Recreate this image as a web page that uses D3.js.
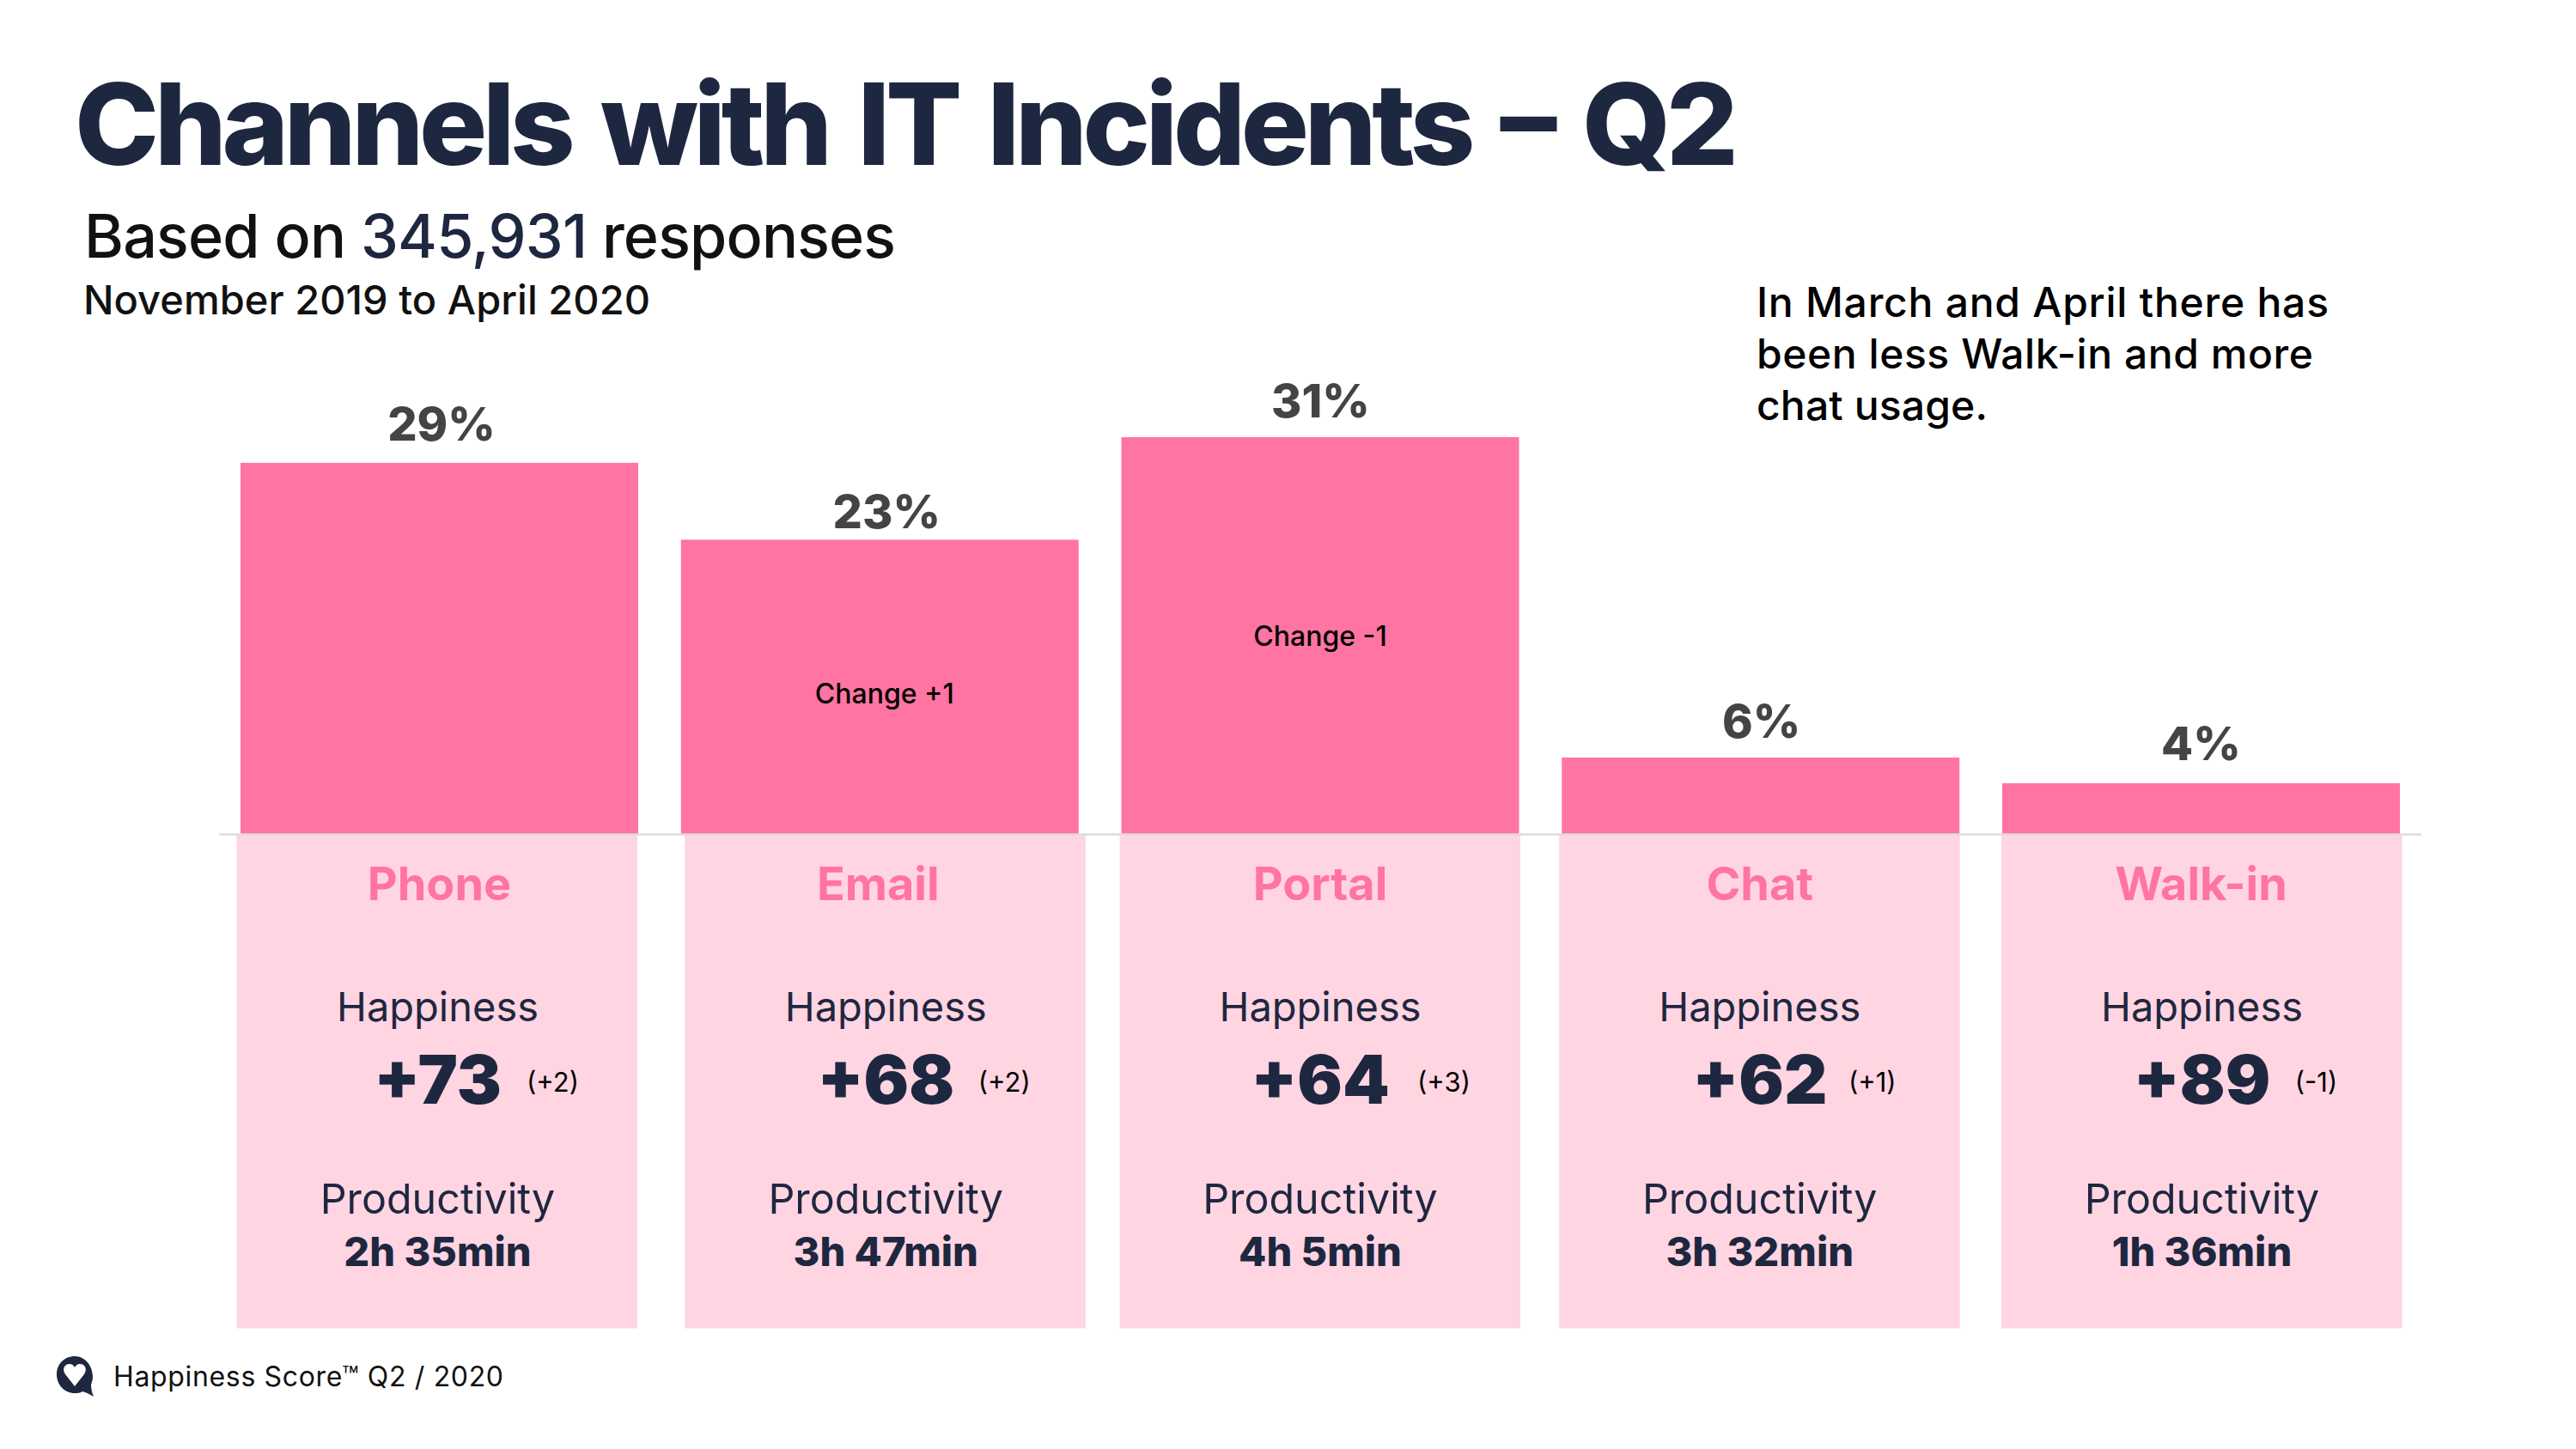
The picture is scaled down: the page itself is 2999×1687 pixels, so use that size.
<!DOCTYPE html>
<html><head><meta charset="utf-8">
<script src="https://cdnjs.cloudflare.com/ajax/libs/d3/7.8.5/d3.min.js"></script>
<style>
html,body{margin:0;padding:0;background:#fff}
svg{display:block}
text{font-family:Inter,"Noto Sans",sans-serif}
</style></head><body><svg id="c" width="2999" height="1687" viewBox="0 0 2999 1687"></svg>
<script>
const channels = ["Phone","Email","Portal","Chat","Walk-in"];
const shares = [29,23,31,6,4];
const changeNotes = ["","Change +1","Change -1","",""];
const happiness = ["+73","+68","+64","+62","+89"];
const happinessDelta = ["(+2)","(+2)","(+3)","(+1)","(-1)"];
const productivity = ["2h 35min","3h 47min","4h 5min","3h 32min","1h 36min"];

// layout tweaks relative to each bar's centre / left edge
const panelNudge = [-4.5,4.5,-2,-3,-1];
const textNudge = [-2,7,0,-1,1];
const nameNudge = [0,-2,0,-1,0];
const deltaOffset = [132,145,144,130,134];
const shareDx = [2.5,8,0.5,1,0];
const shareDy = [-26,-13,-23,-23,-27];
const noteDx = [0,5.5,0,0,-1];
const noteDy = [0,19.5,11.5,0,0];

const navy="#1e2740", pink="#ff74a2", light="#ffd5e2", grey="#444444";
const svg=d3.select("#c");
const x=d3.scaleBand().domain(channels).range([280,2794]).paddingInner(49.75/512.75);
const y=d3.scaleLinear().domain([0,31]).range([971.5,509]);
const idx=d=>channels.indexOf(d);
const cx=d=>x(d)+x.bandwidth()/2;

svg.append("g").selectAll("rect").data(channels).join("rect")
  .attr("x",d=>x(d)+panelNudge[idx(d)]).attr("y",y(0)).attr("width",466.5).attr("height",1546.5-y(0)).attr("fill",light);
svg.append("g").selectAll("rect").data(channels).join("rect")
  .attr("x",d=>x(d)).attr("y",(d,i)=>y(shares[i])).attr("width",x.bandwidth()).attr("height",(d,i)=>y(0)-y(shares[i])).attr("fill",pink);
svg.append("line").attr("x1",x.range()[0]-25).attr("x2",x.range()[1]+25).attr("y1",y(0)).attr("y2",y(0)).attr("stroke","#dddddd").attr("stroke-width",2.5);

function T(g,txt,xx,yy,fs,w,col,len){
  const t=g.append("text").attr("x",xx).attr("y",yy).attr("font-size",fs).attr("font-weight",w).attr("fill",col).text(txt);
  if(len) t.attr("textLength",len).attr("lengthAdjust","spacing");
  return t;
}
const head=svg.append("g");
T(head,"Channels with IT Incidents – Q2",87,192,132,800,navy,1937).attr("word-spacing",11);
const sub=T(head,"",98,300,70,450,"#111",945);
sub.append("tspan").text("Based on ");
sub.append("tspan").attr("fill",navy).text("345,931");
sub.append("tspan").text(" responses");
T(head,"November 2019 to April 2020",97,366,47,450,"#111",660);
["In March and April there has","been less Walk-in and more","chat usage."].forEach((s,i)=>T(head,s,2045,369+60*i,48,550,"#000",[666,648,269][i]));
T(head,"Happiness Score™ Q2 / 2020",132,1613.5,32,400,"#111",454);

// value labels
svg.append("g").selectAll("text").data(channels).join("text")
  .attr("x",(d,i)=>cx(d)+shareDx[i]).attr("y",(d,i)=>y(shares[i])+shareDy[i]).attr("text-anchor","middle")
  .attr("font-size",54).attr("font-weight",800).attr("fill",grey).text((d,i)=>shares[i]+"%");
svg.append("g").selectAll("text").data(channels.filter((d,i)=>changeNotes[i])).join("text")
  .attr("x",d=>cx(d)+noteDx[idx(d)]).attr("y",d=>y(shares[idx(d)]/2)+noteDy[idx(d)]).attr("text-anchor","middle")
  .attr("font-size",32).attr("font-weight",500).attr("fill","#000").text(d=>changeNotes[idx(d)]);

const rows=svg.append("g").selectAll("g").data(channels).join("g");
const col=(sel,yy,fs,w,c,f,nudge)=>sel.append("text").attr("x",d=>cx(d)+nudge(d)).attr("y",yy).attr("text-anchor","middle")
  .attr("font-size",fs).attr("font-weight",w).attr("fill",c).text(f);
col(rows,1048,54,650,pink,d=>d,d=>nameNudge[idx(d)]);
col(rows,1188.5,47,400,navy,()=>"Happiness",d=>textNudge[idx(d)]);
col(rows,1284.5,78,900,navy,d=>happiness[idx(d)],d=>textNudge[idx(d)]);
col(rows,1271,31,400,"#000",d=>happinessDelta[idx(d)],d=>deltaOffset[idx(d)]);
col(rows,1413,48.4,400,navy,()=>"Productivity",d=>textNudge[idx(d)]);
col(rows,1474,47,800,navy,d=>productivity[idx(d)],d=>textNudge[idx(d)]);

// logo
const logo=svg.append("g").attr("transform","translate(66,1579)");
logo.append("path").attr("fill",navy).attr("d","M21 0C33 0 42 11 42 24C42 27 41 30 40 33C40 38 41 42 43 47C38 44 34 42 30 41C27 43 24 43 21 43C9 43 0 33 0 21C0 9 9 0 21 0Z");
logo.append("path").attr("fill","#fff").attr("d","M21 35L10 21C6 15 9 9 15 9C18 9 20 11 21 13C22 11 24 9 27 9C33 9 36 15 32 21Z");
</script></body></html>
